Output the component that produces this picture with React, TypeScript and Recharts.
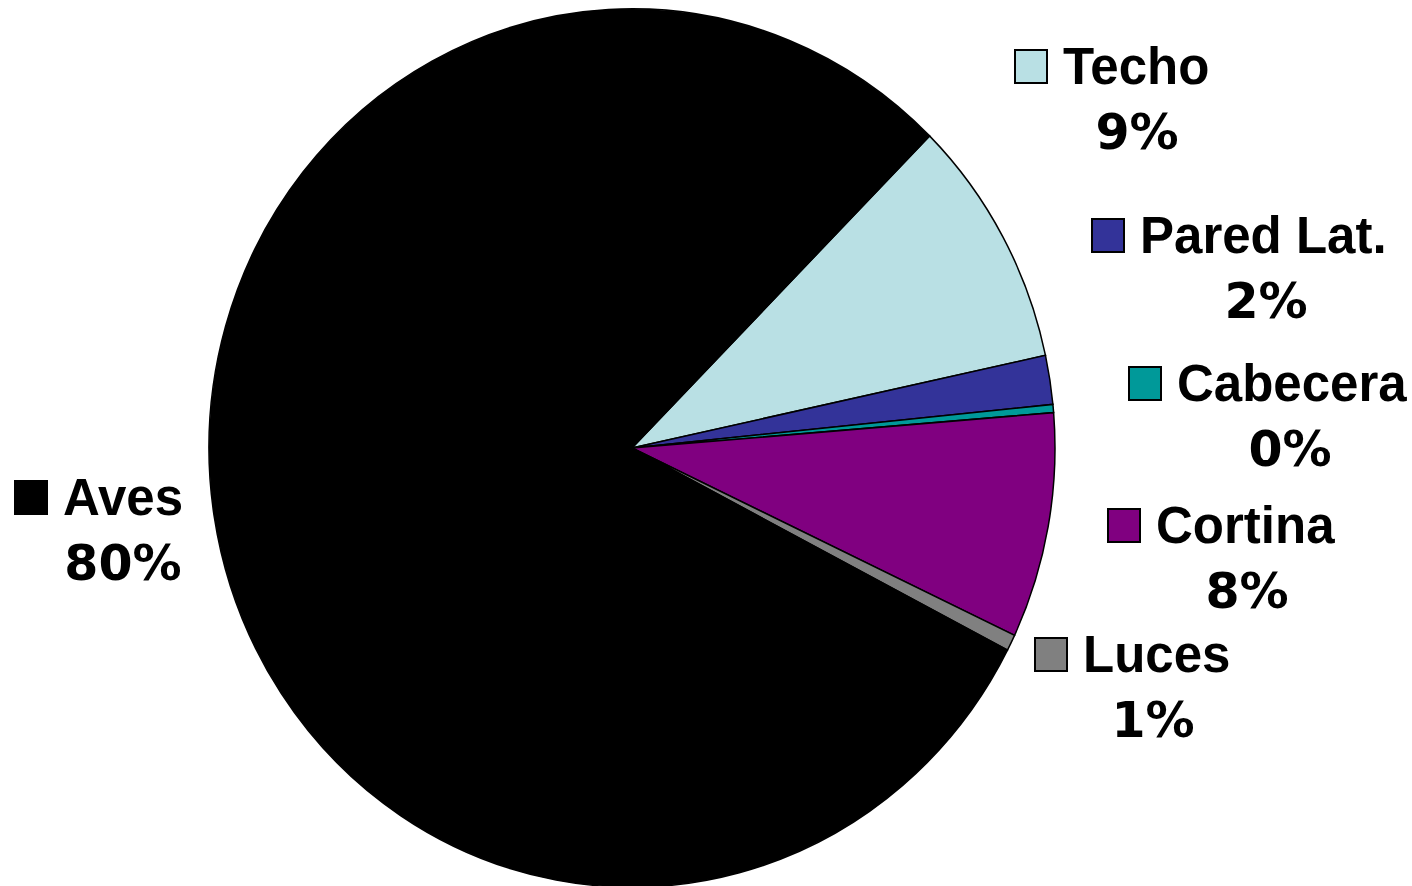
import React from 'react';
import { PieChart, Pie, Cell } from 'recharts';

// Categorías en el orden de las agujas del reloj, empezando por Techo
const categories = ['Techo', 'Pared Lat.', 'Cabecera', 'Cortina', 'Luces', 'Aves'];
const shares = [9.2, 1.8, 0.3, 8.3, 0.6, 79.8];
const colors = ['#B9E0E4', '#333399', '#009999', '#800080', '#808080', '#000000'];

// Posición de cada etiqueta (cuadro de color + nombre, porcentaje debajo)
const labelLayout = [
  { sx: 1015, by: 84, pcx: 1137 },
  { sx: 1092, by: 253, pcx: 1266 },
  { sx: 1129, by: 401, pcx: 1290 },
  { sx: 1108, by: 543, pcx: 1247 },
  { sx: 1035, by: 672, pcx: 1153 },
  { sx: 15, by: 515, pcx: 123 },
];

const WIDTH = 1412;
const HEIGHT = 886;
const CX = 632;
const CY = 448;
const RADIUS = 423;
// el pastel original es un poco más alto que ancho
const STRETCH_Y = 1.038;

const data = categories.map((name, i) => ({ name, value: shares[i], fill: colors[i] }));

const NAME_FONT = '"Liberation Sans", Arial, sans-serif';
const PCT_FONT = '"DejaVu Sans", Verdana, sans-serif';

const renderLabel = (props: any) => {
  const { index, percent } = props;
  const pos = labelLayout[index];
  const entry = data[index];
  if (!pos) return null;
  return (
    <g key={`lbl-${index}`}>
      <rect
        x={pos.sx}
        y={pos.by - 34}
        width={32}
        height={33}
        fill={entry.fill}
        stroke="#000"
        strokeWidth={2}
      />
      <text
        x={pos.sx + 48}
        y={pos.by}
        fontFamily={NAME_FONT}
        fontWeight="bold"
        fontSize={51}
        fill="#000"
        textAnchor="start"
      >
        {entry.name}
      </text>
      <text
        x={pos.pcx}
        y={pos.by + 65}
        fontFamily={PCT_FONT}
        fontWeight="bold"
        fontSize={49}
        fill="#000"
        textAnchor="middle"
      >
        {`${Math.round(percent * 100)}%`}
      </text>
    </g>
  );
};

export default function App() {
  return (
    <div style={{ position: 'absolute', left: 0, top: 0, width: WIDTH, height: HEIGHT, background: '#fff' }}>
      <style>{`
        .recharts-pie-sector {
          transform: scaleY(${STRETCH_Y});
          transform-origin: ${CX}px ${CY}px;
        }
      `}</style>
      <PieChart width={WIDTH} height={HEIGHT} margin={{ top: 0, right: 0, bottom: 0, left: 0 }}>
        <Pie
          data={data}
          dataKey="value"
          nameKey="name"
          cx={CX}
          cy={CY}
          outerRadius={RADIUS}
          startAngle={45.3}
          endAngle={45.3 - 360}
          stroke="#000"
          strokeWidth={1.5}
          label={renderLabel}
          labelLine={false}
          isAnimationActive={false}
        >
          {data.map((d) => (
            <Cell key={d.name} fill={d.fill} />
          ))}
        </Pie>
      </PieChart>
    </div>
  );
}
